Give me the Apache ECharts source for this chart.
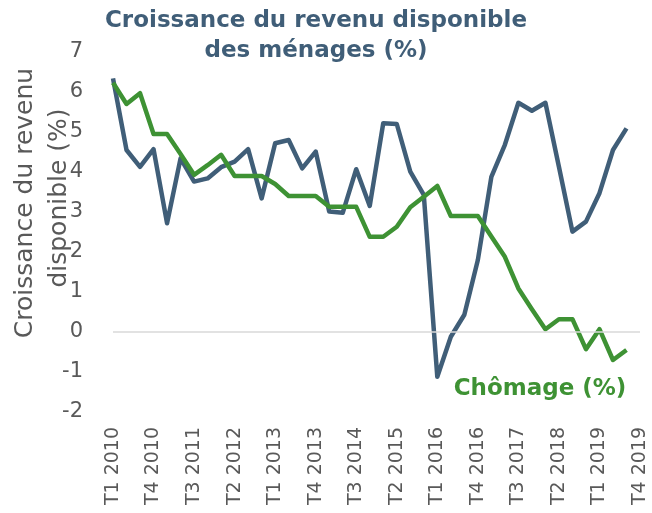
<!DOCTYPE html>
<html>
<head>
<meta charset="utf-8">
<script src="https://cdn.jsdelivr.net/npm/echarts@6/dist/echarts.min.js"></script>
<style>
  html, body { margin: 0; padding: 0; background: #fff; }
  #main { width: 652px; height: 513px; }
</style>
</head>
<body>
<div id="main"></div>
<script>
var chartDom = document.getElementById('main');
var myChart = echarts.init(chartDom);
var option;

var FONT = 'DejaVu Sans';
var blue = '#405e78';
var green = '#3e9234';

var quarters = [
  'T1 2010', 'T2 2010', 'T3 2010', 'T4 2010',
  'T1 2011', 'T2 2011', 'T3 2011', 'T4 2011',
  'T1 2012', 'T2 2012', 'T3 2012', 'T4 2012',
  'T1 2013', 'T2 2013', 'T3 2013', 'T4 2013',
  'T1 2014', 'T2 2014', 'T3 2014', 'T4 2014',
  'T1 2015', 'T2 2015', 'T3 2015', 'T4 2015',
  'T1 2016', 'T2 2016', 'T3 2016', 'T4 2016',
  'T1 2017', 'T2 2017', 'T3 2017', 'T4 2017',
  'T1 2018', 'T2 2018', 'T3 2018', 'T4 2018',
  'T1 2019', 'T2 2019', 'T3 2019', 'T4 2019'
];

// croissance du revenu disponible (%)
var revenu = [
  6.34, 4.55, 4.13, 4.57, 2.72, 4.34, 3.76, 3.84, 4.12, 4.26,
  4.57, 3.34, 4.72, 4.80, 4.09, 4.51, 3.01, 2.98, 4.07, 3.15,
  5.22, 5.20, 4.01, 3.43, -1.12, -0.12, 0.43, 1.80, 3.88, 4.68,
  5.73, 5.53, 5.73, 4.13, 2.51, 2.76, 3.47, 4.55, 5.09, '-'
];

// chômage (%)
var chomage = [
  6.23, 5.70, 5.97, 4.95, 4.95, 4.45, 3.93, 4.17, 4.43, 3.90,
  3.90, 3.90, 3.70, 3.40, 3.40, 3.40, 3.13, 3.13, 3.13, 2.38,
  2.38, 2.63, 3.12, 3.38, 3.65, 2.90, 2.90, 2.90, 2.39, 1.88,
  1.09, 0.57, 0.07, 0.32, 0.32, -0.43, 0.07, -0.70, -0.45, '-'
];

option = {
  animation: false,
  backgroundColor: '#fff',
  grid: {
    left: 113,
    right: 12,
    top: 52,
    bottom: 101,
    containLabel: false,
    outerBoundsMode: 'none'
  },
  graphic: [
    {
      type: 'text', x: 316, y: 21,
      style: { text: 'Croissance du revenu disponible', align: 'center', verticalAlign: 'middle',
        font: 'bold 23px "' + FONT + '"', fill: blue }
    },
    {
      type: 'text', x: 316, y: 51,
      style: { text: 'des ménages (%)', align: 'center', verticalAlign: 'middle',
        font: 'bold 23px "' + FONT + '"', fill: blue }
    },
    {
      type: 'text', x: 540, y: 389,
      style: { text: 'Chômage (%)', align: 'center', verticalAlign: 'middle',
        font: 'bold 23px "' + FONT + '"', fill: green }
    },
    {
      type: 'text', x: 25, y: 203, rotation: Math.PI / 2,
      style: { text: 'Croissance du revenu', align: 'center', verticalAlign: 'middle',
        font: '25px "' + FONT + '"', fill: '#595959' }
    },
    {
      type: 'text', x: 59, y: 198, rotation: Math.PI / 2,
      style: { text: 'disponible (%)', align: 'center', verticalAlign: 'middle',
        font: '25px "' + FONT + '"', fill: '#595959' }
    }
  ],
  xAxis: {
    type: 'category',
    data: quarters,
    boundaryGap: false,
    axisLine: { show: false },
    axisTick: { show: false },
    splitLine: { show: false },
    axisLabel: {
      interval: 2,
      rotate: 90,
      margin: 15,
      color: '#595959',
      fontFamily: FONT,
      fontSize: 19
    }
  },
  yAxis: {
    type: 'value',
    min: -2,
    max: 7,
    interval: 1,
    axisLine: { show: false },
    axisTick: { show: false },
    splitLine: { show: false },
    axisLabel: {
      margin: 30,
      color: '#595959',
      fontFamily: FONT,
      fontSize: 21
    }
  },
  series: [
    {
      name: 'Croissance du revenu disponible',
      type: 'line',
      data: revenu,
      symbol: 'none',
      lineStyle: { color: blue, width: 4.5, join: 'round' },
      itemStyle: { color: blue },
      markLine: {
        silent: true,
        symbol: 'none',
        label: { show: false },
        lineStyle: { color: '#d9d9d9', width: 1.5, type: 'solid' },
        data: [{ yAxis: 0 }]
      },
      z: 2
    },
    {
      name: 'Chômage',
      type: 'line',
      data: chomage,
      symbol: 'none',
      lineStyle: { color: green, width: 4.5, join: 'round' },
      itemStyle: { color: green },
      z: 3
    }
  ]
};

option && myChart.setOption(option);
</script>
</body>
</html>
